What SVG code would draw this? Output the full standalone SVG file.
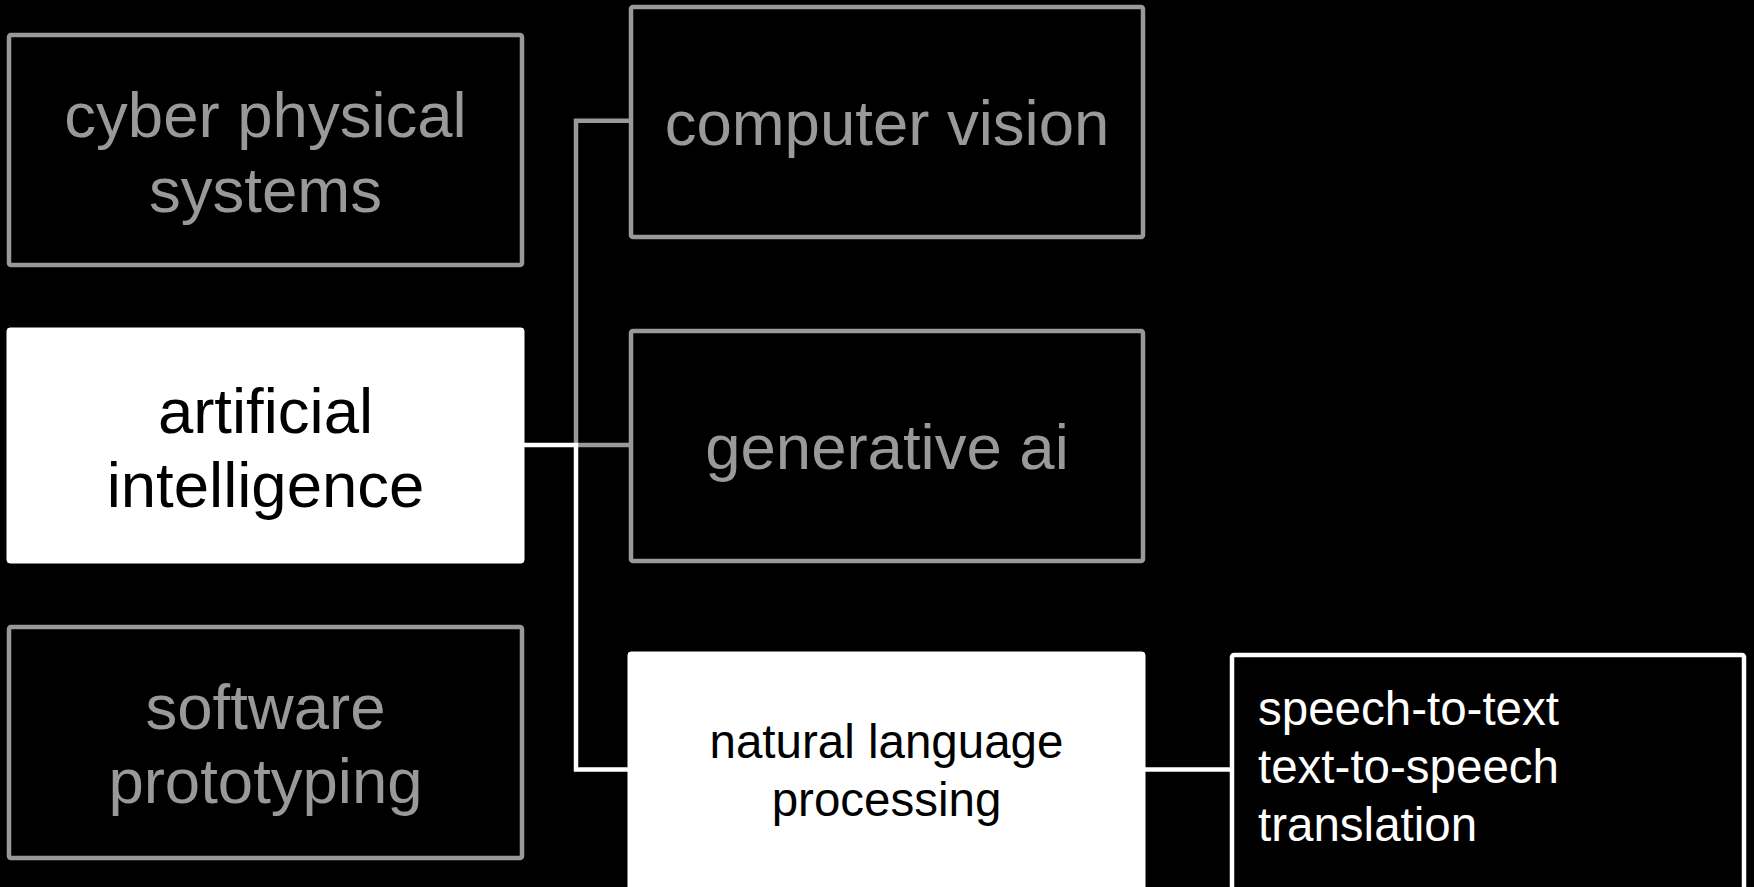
<svg xmlns="http://www.w3.org/2000/svg" width="1754" height="887" viewBox="0 0 1754 887">
<style>
.bg{fill:#000}
.gbox{fill:#000;stroke:#999;stroke-width:4.5}
.wbox{fill:#fff;stroke:#fff;stroke-width:1}
.sbox{fill:#000;stroke:#fff;stroke-width:4.5}
.gt{fill:#999;font-family:"Liberation Sans",Arial,sans-serif;font-size:63.5px;text-anchor:middle}
.bt{fill:#000;font-family:"Liberation Sans",Arial,sans-serif;font-size:63.5px;text-anchor:middle}
.bs{fill:#000;font-family:"Liberation Sans",Arial,sans-serif;font-size:47.5px;text-anchor:middle}
.ws{fill:#fff;font-family:"Liberation Sans",Arial,sans-serif;font-size:47.5px}
.gl{stroke:#999;stroke-width:4.5;fill:none}
.wl{stroke:#fff;stroke-width:4.5;fill:none}
</style>
<rect class="bg" x="0" y="0" width="1754" height="887"/>
<g id="connectors">
<path class="gl" d="M576 445 V120.8 H631"/>
<path class="gl" d="M576 445 H631"/>
<path class="wl" d="M524 445 H576 V769.6 H628"/>
<path class="wl" d="M1145 769.6 H1232"/>
</g>
<g id="cyber-physical-systems">
<rect class="gbox" x="9" y="35" width="513" height="230" rx="2"/>
<text class="gt" x="265.5" y="136.5">cyber physical</text>
<text class="gt" x="265.5" y="211.5">systems</text>
</g>
<g id="artificial-intelligence">
<rect class="wbox" x="7" y="328" width="517" height="235" rx="3"/>
<text class="bt" x="265.5" y="432.5">artificial</text>
<text class="bt" x="265.5" y="506.5">intelligence</text>
</g>
<g id="software-prototyping">
<rect class="gbox" x="9" y="627" width="513" height="231" rx="2"/>
<text class="gt" x="265.5" y="729">software</text>
<text class="gt" x="265.5" y="803">prototyping</text>
</g>
<g id="computer-vision">
<rect class="gbox" x="631" y="7" width="512" height="230" rx="2"/>
<text class="gt" x="887" y="145">computer vision</text>
</g>
<g id="generative-ai">
<rect class="gbox" x="631" y="331" width="512" height="230" rx="2"/>
<text class="gt" x="887" y="469">generative ai</text>
</g>
<g id="natural-language-processing">
<rect class="wbox" x="628" y="652" width="517" height="240" rx="3"/>
<text class="bs" x="886.5" y="758">natural language</text>
<text class="bs" x="886.5" y="816">processing</text>
</g>
<g id="nlp-tasks">
<rect class="sbox" x="1232" y="655" width="512" height="240" rx="2"/>
<text class="ws" x="1258" y="725">speech-to-text</text>
<text class="ws" x="1258" y="783">text-to-speech</text>
<text class="ws" x="1258" y="841">translation</text>
</g>
</svg>
